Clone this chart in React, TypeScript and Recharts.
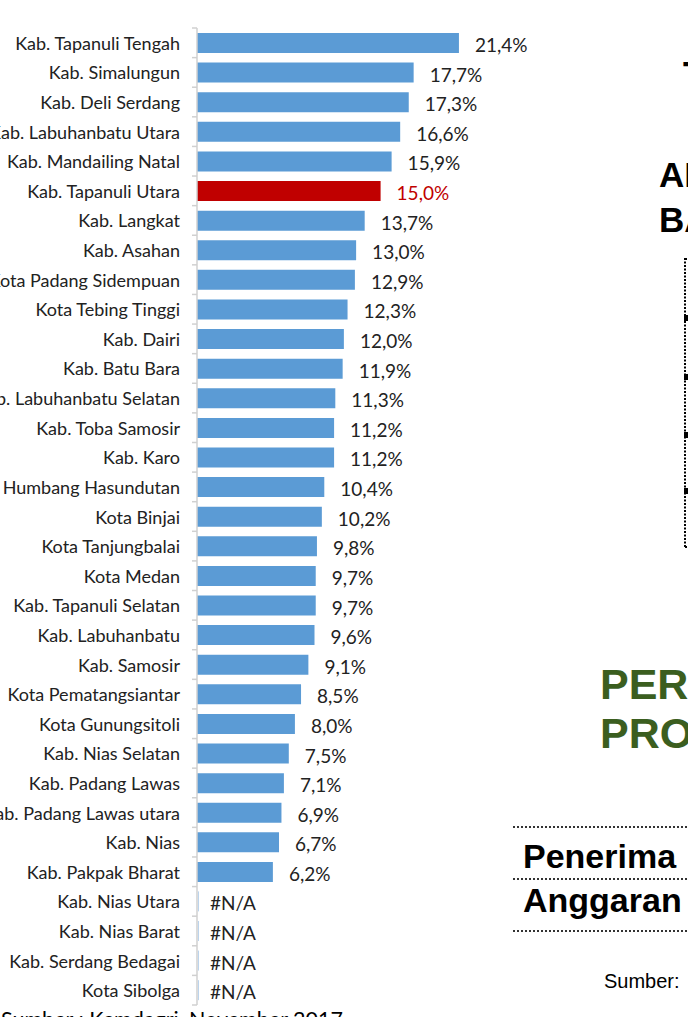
import React from "react";
import { BarChart, Bar, XAxis, YAxis, Cell, LabelList } from "recharts";

const categories = [
  "Kab. Tapanuli Tengah",
  "Kab. Simalungun",
  "Kab. Deli Serdang",
  "Kab. Labuhanbatu Utara",
  "Kab. Mandailing Natal",
  "Kab. Tapanuli Utara",
  "Kab. Langkat",
  "Kab. Asahan",
  "Kota Padang Sidempuan",
  "Kota Tebing Tinggi",
  "Kab. Dairi",
  "Kab. Batu Bara",
  "Kab. Labuhanbatu Selatan",
  "Kab. Toba Samosir",
  "Kab. Karo",
  "Kab. Humbang Hasundutan",
  "Kota Binjai",
  "Kota Tanjungbalai",
  "Kota Medan",
  "Kab. Tapanuli Selatan",
  "Kab. Labuhanbatu",
  "Kab. Samosir",
  "Kota Pematangsiantar",
  "Kota Gunungsitoli",
  "Kab. Nias Selatan",
  "Kab. Padang Lawas",
  "Kab. Padang Lawas utara",
  "Kab. Nias",
  "Kab. Pakpak Bharat",
  "Kab. Nias Utara",
  "Kab. Nias Barat",
  "Kab. Serdang Bedagai",
  "Kota Sibolga",
];

const values: (number | null)[] = [
  21.4, 17.7, 17.3, 16.6, 15.9, 15.0, 13.7, 13.0, 12.9, 12.3, 12.0, 11.9, 11.3,
  11.2, 11.2, 10.4, 10.2, 9.8, 9.7, 9.7, 9.6, 9.1, 8.5, 8.0, 7.5, 7.1, 6.9, 6.7,
  6.2, null, null, null, null,
];

const highlighted = "Kab. Tapanuli Utara";

const BLUE = "#5b9bd5";
const RED = "#c00000";

const data = categories.map((name, i) => ({
  name,
  value: values[i],
  label: values[i] == null ? "#N/A" : values[i]!.toFixed(1).replace(".", ",") + "%",
  na: values[i] == null,
}));

const W = 688;
const H = 1017;
const TOP = 28;
const BOTTOM = 12;
const AXIS_X = 197;
const BAND = (H - TOP - BOTTOM) / categories.length;
const LABEL_FONT = "Lato, 'Open Sans', sans-serif";

const CategoryTick = (props: any) => {
  const { y, payload, index } = props;
  const last = index === categories.length - 1;
  const row = data[index];
  return (
    <g>
      <text
        x={AXIS_X - 17}
        y={y}
        textAnchor="end"
        dominantBaseline="central"
        fontFamily={LABEL_FONT}
        fontSize={18}
        fill="#222"
      >
        {payload.value}
      </text>
      <line x1={AXIS_X - 5} x2={AXIS_X} y1={y - BAND / 2} y2={y - BAND / 2} stroke="#d0d0d0" strokeWidth={1.5} />
      {last && (
        <line x1={AXIS_X - 5} x2={AXIS_X} y1={y + BAND / 2} y2={y + BAND / 2} stroke="#d0d0d0" strokeWidth={1.5} />
      )}
      {row && row.na && (
        <>
          <line x1={AXIS_X + 1.5} x2={AXIS_X + 1.5} y1={y - 10} y2={y + 10} stroke="#bcd4ec" strokeWidth={1} />
          <text
            x={AXIS_X + 13}
            y={y + 1.5}
            dominantBaseline="central"
            fontFamily={LABEL_FONT}
            fontSize={19}
            fill="#222"
          >
            {row.label}
          </text>
        </>
      )}
    </g>
  );
};

const ValueLabel = (props: any) => {
  const { x, y, width, height, value, index } = props;
  const row = data[index];
  if (!row || row.na) return null;
  const isHi = row.name === highlighted;
  return (
    <text
      x={x + width + 16}
      y={y + height / 2 + 1.5}
      dominantBaseline="central"
      fontFamily={LABEL_FONT}
      fontSize={19}
      fill={isHi ? RED : "#222"}
    >
      {value}
    </text>
  );
};

const Overlay = () => (
  <svg width={W} height={H} style={{ position: "absolute", left: 0, top: 0, pointerEvents: "none" }}>
    <g fontFamily="'Liberation Sans', Arial, sans-serif" fontWeight="bold" fill="#000">
      <text x={683} y={88} fontSize={36}>T</text>
      <text x={659} y={187} fontSize={35}>AL</text>
      <text x={659} y={232} fontSize={35}>BA</text>
    </g>
    <line x1={685} x2={685} y1={258} y2={548} stroke="#000" strokeWidth={2} strokeDasharray="2 1.5" />
    <line x1={685} x2={688} y1={259} y2={259} stroke="#000" strokeWidth={2} strokeDasharray="2 1.5" />
    <line x1={685} x2={688} y1={547} y2={547} stroke="#000" strokeWidth={2} strokeDasharray="2 1.5" />
    {[318, 377, 435, 491].map((yy) => (
      <rect key={yy} x={684} y={yy - 3} width={4} height={6} fill="#000" />
    ))}
    <g fontFamily="'Liberation Sans', Arial, sans-serif" fontWeight="bold" fill="#3b5e1f">
      <text x={600} y={699} fontSize={43}>PERSEN</text>
      <text x={600} y={748} fontSize={43}>PROV</text>
    </g>
    {[827, 879, 931].map((yy) => (
      <line key={yy} x1={513} x2={688} y1={yy} y2={yy} stroke="#333" strokeWidth={2} strokeDasharray="2 2" />
    ))}
    <g fontFamily="'Liberation Sans', Arial, sans-serif" fontWeight="bold" fill="#000">
      <text x={523} y={868} fontSize={34}>Penerima</text>
      <text x={523} y={912} fontSize={34}>Anggaran</text>
    </g>
    <text x={604} y={988} fontSize={20} fontFamily="'Liberation Sans', Arial, sans-serif" fill="#000">
      Sumber:
    </text>
    <text x={1} y={1027} fontSize={21.5} fontFamily={LABEL_FONT} fill="#000">
      Sumber : Kemdagri, November 2017
    </text>
  </svg>
);

export default function App() {
  return (
    <div
      style={{
        position: "absolute",
        left: 0,
        top: 0,
        width: W,
        height: H,
        overflow: "hidden",
        background: "#fff",
      }}
    >
      <BarChart
        width={W}
        height={H}
        data={data}
        layout="vertical"
        margin={{ top: TOP, right: 185, bottom: BOTTOM, left: 0 }}
      >
        <XAxis type="number" domain={[0, 25]} hide />
        <YAxis
          type="category"
          dataKey="name"
          width={AXIS_X}
          axisLine={{ stroke: "#d0d0d0", strokeWidth: 1.5 }}
          tickLine={false}
          tick={<CategoryTick />}
          interval={0}
        />
        <Bar dataKey="value" barSize={20} isAnimationActive={false}>
          {data.map((d) => (
            <Cell key={d.name} fill={d.name === highlighted ? RED : BLUE} />
          ))}
          <LabelList dataKey="label" content={<ValueLabel />} />
        </Bar>
      </BarChart>
      <Overlay />
    </div>
  );
}
